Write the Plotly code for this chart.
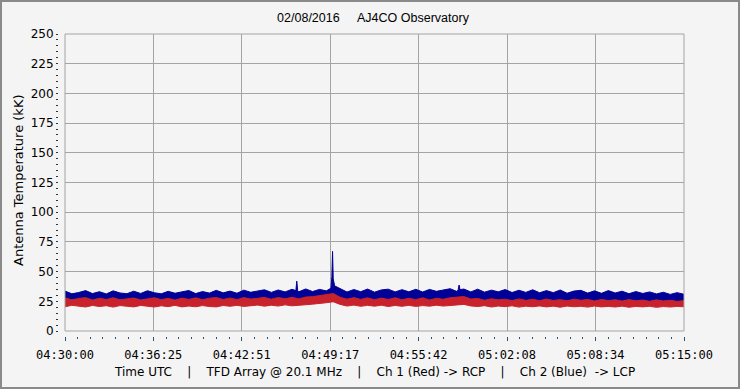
import plotly.graph_objects as go

# ---------------- data ----------------
start_label = "04:30:00"
tick_labels = ["04:30:00", "04:36:25", "04:42:51", "04:49:17",
               "04:55:42", "05:02:08", "05:08:34", "05:15:00"]
y_ticks = [0, 25, 50, 75, 100, 125, 150, 175, 200, 225, 250]

step_s = 30  # seconds between samples of the band envelopes

# Ch 2 (Blue) upper / lower envelope, kK
blue_hi = [33.6, 31.3, 32.4, 34.0, 31.5, 33.1, 31.2, 33.8, 32.0, 31.4,
           33.5, 31.6, 33.9, 32.2, 31.3, 33.4, 31.8, 33.0, 34.1, 31.5,
           33.2, 31.9, 34.2, 32.1, 33.6, 31.8, 34.4, 32.6, 33.9, 34.7,
           32.5, 34.5, 32.9, 35.1, 33.0, 35.4, 33.2, 35.0, 33.8, 44.0,
           35.6, 32.8, 34.9, 33.1, 35.3, 32.7, 34.6, 35.2, 32.9, 34.8,
           33.0, 35.1, 32.8, 35.0, 33.4, 34.7, 35.6, 33.2, 35.3, 32.9,
           35.2, 32.7, 34.4, 33.0, 34.9, 32.4, 34.3, 32.5, 34.7, 32.2,
           34.0, 32.3, 34.5, 31.8, 33.6, 34.2, 31.9, 33.8, 31.7, 34.0,
           32.0, 33.5, 31.4, 33.2, 31.6, 32.9, 31.2, 32.6, 30.8, 32.3, 30.9]
blue_lo = [24.8, 25.3, 24.6, 25.1, 24.9, 25.4, 24.7, 25.2, 24.5, 25.0,
           25.2, 24.7, 25.1, 24.6, 25.3, 24.8, 25.0, 24.5, 25.2, 24.9,
           25.1, 24.6, 25.3, 24.8, 25.4, 24.9, 25.5, 25.0, 25.6, 25.2,
           25.7, 25.3, 25.8, 25.4, 25.9, 25.6, 26.2, 26.8, 27.5, 28.0,
           26.4, 25.7, 26.0, 25.5, 25.9, 25.4, 25.8, 25.3, 25.7, 25.2,
           25.6, 25.1, 25.5, 25.2, 25.8, 25.4, 26.0, 25.6, 26.2, 25.5,
           25.9, 25.2, 25.6, 24.9, 25.3, 24.8, 25.2, 24.7, 25.1, 24.6,
           25.0, 24.5, 24.9, 24.4, 24.8, 24.3, 24.7, 24.2, 24.6, 24.1,
           24.5, 24.0, 24.4, 23.9, 24.3, 23.8, 24.2, 23.7, 24.1, 23.6, 24.0]
# Ch 1 (Red) upper / lower envelope, kK
red_hi = [27.9, 26.2, 27.4, 28.1, 26.0, 27.6, 26.5, 28.0, 26.3, 27.2,
          27.8, 26.1, 26.9, 28.0, 26.4, 27.5, 26.0, 27.7, 26.6, 27.9,
          26.3, 27.6, 28.2, 26.5, 27.8, 26.4, 28.1, 26.9, 27.5, 28.3,
          26.8, 28.2, 27.1, 28.4, 27.0, 28.6, 28.9, 29.6, 30.2, 31.5,
          28.4, 26.8, 28.1, 26.6, 27.9, 26.3, 27.7, 26.5, 28.0, 26.2,
          27.6, 26.4, 27.9, 26.1, 27.5, 26.7, 28.0, 28.6, 29.0, 26.9,
          27.4, 25.9, 27.1, 26.2, 26.8, 25.6, 27.0, 25.8, 26.7, 25.5,
          26.9, 25.7, 26.4, 25.4, 26.8, 25.9, 26.5, 25.3, 26.6, 25.6,
          26.3, 25.2, 26.5, 25.4, 26.1, 25.0, 26.2, 25.3, 25.9, 24.9, 25.6]
red_lo = [20.4, 21.6, 20.8, 20.2, 21.5, 20.6, 21.3, 20.1, 21.4, 20.7,
          20.3, 21.5, 20.9, 20.2, 21.2, 20.5, 21.6, 20.3, 21.0, 20.4,
          21.4, 20.6, 20.3, 21.5, 20.8, 21.6, 20.7, 21.3, 21.8, 20.9,
          21.7, 21.0, 22.0, 21.2, 21.8, 22.1, 22.6, 23.0, 23.8, 24.6,
          22.4, 21.0, 21.8, 20.8, 21.6, 20.9, 21.7, 20.6, 21.5, 20.8,
          21.6, 20.7, 21.4, 20.9, 21.7, 21.0, 21.5, 22.0, 22.4, 21.1,
          20.6, 21.3, 20.2, 21.0, 20.5, 21.2, 20.1, 20.9, 20.4, 21.1,
          20.3, 20.9, 20.0, 21.0, 20.4, 20.8, 20.1, 21.0, 20.3, 20.7,
          20.2, 20.9, 20.0, 20.7, 20.3, 20.8, 19.9, 20.6, 20.2, 20.7, 20.4]

# narrow spikes of channel 2 (seconds after 04:30:00, kK)
blue_spike_time = [1007, 1011, 1015, 1160, 1164, 1167, 1169, 1176, 1715, 1719, 1723]
blue_spike_value = [34.0, 42.0, 34.0, 36.0, 46.0, 67.0, 52.0, 38.0, 34.8, 38.7, 34.8]

x_title = ("Time UTC", "TFD Array @ 20.1 MHz", "Ch 1 (Red) -> RCP", "Ch 2 (Blue)\u00a0\u00a0-> LCP")
chart_title = "02/08/2016\u00a0\u00a0\u00a0\u00a0\u00a0AJ4CO Observatory"
y_title = "Antenna Temperature (kK)"

# ---------------- helpers ----------------
def secs(label):
    h, m, s = (int(v) for v in label.split(":"))
    return h * 3600 + m * 60 + s

t0 = secs(start_label)
tickvals = [secs(l) - t0 for l in tick_labels]
t_end = tickvals[-1]
base_t = [i * step_s for i in range(len(blue_hi))]

def merge(t_a, v_a, t_b, v_b):
    pts = sorted(list(zip(t_a, v_a)) + list(zip(t_b, v_b)))
    return [p[0] for p in pts], [p[1] for p in pts]

bh_t, bh_v = merge(base_t, blue_hi, blue_spike_time, blue_spike_value)

def band(t_hi, v_hi, t_lo, v_lo):
    return list(t_hi) + list(t_lo)[::-1], list(v_hi) + list(v_lo)[::-1]

BLUE = "#000096"
RED = "#C8232D"

fig = go.Figure()
bx, by = band(bh_t, bh_v, base_t, blue_lo)
fig.add_trace(go.Scatter(x=bx, y=by, mode="lines", fill="toself", fillcolor=BLUE,
                         line=dict(color=BLUE, width=1), hoverinfo="skip", showlegend=False))
rx, ry = band(base_t, red_hi, base_t, red_lo)
fig.add_trace(go.Scatter(x=rx, y=ry, mode="lines", fill="toself", fillcolor=RED,
                         line=dict(color=RED, width=1), hoverinfo="skip", showlegend=False))

# ---------------- layout ----------------
W, H = 740, 389
L, R, T, B = 58, 56, 34, 53
pw, ph = W - L - R, H - T - B
gx, gy = 7, 5  # gap between axes ticks and plot area

BG = "#f4f4f4"
GRID = "#a4a4a4"
TICKC = "#2f4f6f"

fig.update_layout(
    template="none",
    width=W, height=H,
    margin=dict(l=L, r=R, t=T, b=B, pad=0, autoexpand=False),
    paper_bgcolor=BG, plot_bgcolor=BG,
    showlegend=False,
    title=dict(text=chart_title, x=373 / W, xanchor="center", y=1 - 18 / H, yanchor="middle",
               font=dict(family="Liberation Sans", size=12.5, color="#000")),
    xaxis=dict(domain=[gx / pw, 1], range=[0, t_end], anchor="free", position=0,
               automargin=False,
               tickmode="array", tickvals=tickvals, ticktext=tick_labels,
               ticks="outside", ticklen=4, tickcolor=TICKC, tickwidth=1,
               showgrid=True, gridcolor=GRID, gridwidth=1,
               zeroline=False, showline=False, ticklabelstandoff=4,
               tickfont=dict(family="DejaVu Sans Mono", size=12, color="#000"),
               minor=dict(tickmode="linear", tick0=0, dtick=t_end / 49, ticks="outside",
                          ticklen=2, tickcolor=TICKC, showgrid=False)),
    yaxis=dict(domain=[gy / ph, 1], range=[0, 250], anchor="free", position=0,
               automargin=False,
               tickmode="array", tickvals=y_ticks,
               ticks="outside", ticklen=2, tickcolor="#333", tickwidth=1,
               showgrid=True, gridcolor=GRID, gridwidth=1,
               zeroline=False, showline=False,
               tickfont=dict(family="DejaVu Sans", size=12, color="#000"),
               minor=dict(tickmode="linear", tick0=0, dtick=5, ticks="outside",
                          ticklen=2, tickcolor="#333", showgrid=False)),
)

sep = "\u00a0" * 4 + "|" + "\u00a0" * 4
fig.add_annotation(text=sep.join(x_title), xref="paper", yref="paper",
                   x=(374.5 - L) / pw, y=(H - B - 372) / ph, xanchor="center", yanchor="middle",
                   showarrow=False, font=dict(family="DejaVu Sans", size=12, color="#000"))
fig.add_annotation(text=y_title, textangle=-90, xref="paper", yref="paper",
                   x=(18 - L) / pw, y=(H - B - 181) / ph, xanchor="center", yanchor="middle",
                   showarrow=False, font=dict(family="DejaVu Sans", size=13, color="#000"))

# plot-area frame
fig.add_shape(type="rect", xref="x domain", yref="y domain", x0=0, x1=1, y0=0, y1=1,
              line=dict(color=GRID, width=1), layer="above")
# outer figure frame
fig.add_shape(type="rect", xref="paper", yref="paper",
              x0=(1 - L) / pw, x1=(W - 1 - L) / pw,
              y0=(H - B - (H - 1)) / ph, y1=(H - B - 1) / ph,
              line=dict(color="#8a8a8a", width=2), layer="above")

fig.write_html("out.html", config={"displayModeBar": False},
               post_script="document.body.style.margin='0px';")
